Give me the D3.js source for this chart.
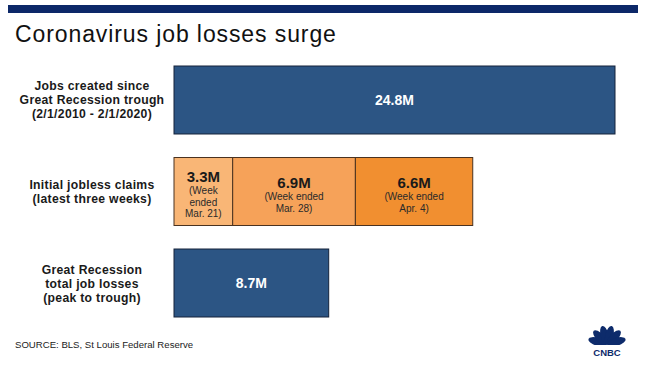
<!DOCTYPE html>
<html>
<head>
<meta charset="utf-8">
<script src="https://cdn.jsdelivr.net/npm/d3@7"></script>
<style>
  body { margin: 0; background: #fff; }
  text { font-family: "Liberation Sans", Arial, sans-serif; }
</style>
</head>
<body>
<div id="chart"></div>
<script>
/* Bar chart: coronavirus job losses vs Great Recession */

const categories = ["jobs", "claims", "recession"];
const categoryLabels = [
    ["Jobs created since", "Great Recession trough", "(2/1/2010 - 2/1/2020)"],
    ["Initial jobless claims", "(latest three weeks)"],
    ["Great Recession", "total job losses", "(peak to trough)"]
];
const jobsCreated = [24.8];
const claimsValues = [3.3, 6.9, 6.6];
const claimsWeeks = [["(Week", "ended", "Mar. 21)"], ["(Week ended", "Mar. 28)"], ["(Week ended", "Apr. 4)"]];
const recessionLosses = [8.7];

const width = 664, height = 377;

const svg = d3.select("#chart")
    .append("svg")
    .attr("width", width)
    .attr("height", height);

// top navy band
svg.append("rect")
    .attr("x", 8).attr("y", 5)
    .attr("width", 630).attr("height", 8)
    .attr("fill", "#0c2868");

svg.append("text")
    .attr("x", 15).attr("y", 42)
    .attr("font-size", 23)
    .attr("letter-spacing", 0.9)
    .attr("font-family", "'Open Sans', sans-serif")
    .attr("fill", "#111")
    .text("Coronavirus job losses surge");

let x = d3.scaleLinear()
    .domain([0, 24.8])
    .range([174, 615]);

let y = d3.scaleBand()
    .domain(categories)
    .range([66, 317])
    .paddingInner(0.257)
    .paddingOuter(0);

// category labels (left)
categories.forEach((c, i) => {
    let lines = categoryLabels[i];
    let cy = y(c) + y.bandwidth() / 2;
    let lh = 14;
    svg.append("g")
        .selectAll("text")
        .data(lines)
        .join("text")
        .attr("text-anchor", "middle")
        .attr("font-size", 12.2)
        .attr("letter-spacing", 0.3)
        .attr("font-weight", 700)
        .attr("fill", "#1a1a1a")
        .attr("x", 92)
        .attr("y", (d, j) => cy + (j - (lines.length - 1) / 2) * lh + 4.5)
        .text(d => d);
});

// single blue bars
const blueBars = [
    { cat: "jobs", value: jobsCreated[0] },
    { cat: "recession", value: recessionLosses[0] }
];

svg.selectAll(".blue")
    .data(blueBars)
    .join("rect")
    .attr("class", "blue")
    .attr("x", x(0))
    .attr("y", d => y(d.cat))
    .attr("width", d => x(d.value) - x(0))
    .attr("height", y.bandwidth())
    .attr("fill", "#2c5584")
    .attr("stroke", "#14223a")
    .attr("stroke-width", 1);

svg.selectAll(".blue-label")
    .data(blueBars)
    .join("text")
    .attr("class", "blue-label")
    .attr("x", d => (x(0) + x(d.value)) / 2)
    .attr("y", d => y(d.cat) + y.bandwidth() / 2 + 5)
    .attr("text-anchor", "middle")
    .attr("font-size", 14)
    .attr("font-weight", 700)
    .attr("fill", "#fff")
    .text(d => d.value + "M");

// stacked orange bar for jobless claims
const orangeColors = ["#f9b676", "#f6a259", "#f18f30"];
let start = 0;
const segments = claimsValues.map((v, i) => {
    let s = { x0: start, x1: start + v, value: v, weeks: claimsWeeks[i], color: orangeColors[i] };
    start += v;
    return s;
});

svg.selectAll(".seg")
    .data(segments)
    .join("rect")
    .attr("class", "seg")
    .attr("x", d => x(d.x0))
    .attr("y", y("claims"))
    .attr("width", d => x(d.x1) - x(d.x0))
    .attr("height", y.bandwidth())
    .attr("fill", d => d.color)
    .attr("stroke", "#4a3220")
    .attr("stroke-width", 1);

const segText = svg.selectAll(".seg-label")
    .data(segments)
    .join("g")
    .attr("class", "seg-label")
    .attr("transform", d => {
        let cy = y("claims") + y.bandwidth() / 2;
        let total = 17 + d.weeks.length * 11.5;
        return `translate(${(x(d.x0) + x(d.x1)) / 2},${cy - total / 2 + 2})`;
    });

segText.append("text")
    .attr("text-anchor", "middle")
    .attr("y", 14)
    .attr("font-size", 15)
    .attr("font-weight", 700)
    .attr("fill", "#1a1a1a")
    .text(d => d.value + "M");

segText.selectAll(".wk")
    .data(d => d.weeks)
    .join("text")
    .attr("class", "wk")
    .attr("text-anchor", "middle")
    .attr("font-size", 10)
    .attr("fill", "#2a2a2a")
    .attr("x", 0)
    .attr("y", (d, j) => 26.5 + j * 11.5)
    .text(d => d);

// source
svg.append("text")
    .attr("x", 15).attr("y", 348)
    .attr("font-size", 9.6)
    .attr("fill", "#222")
    .text("SOURCE: BLS, St Louis Federal Reserve");

// CNBC peacock logo
const logo = svg.append("g").attr("transform", "translate(607,345)");
const feathers = [-72, -43, -14, 14, 43, 72];
logo.selectAll("ellipse")
    .data(feathers)
    .join("ellipse")
    .attr("cx", 0).attr("cy", -10)
    .attr("rx", 4).attr("ry", 9.5)
    .attr("fill", "#0d2b6b")
    .attr("transform", d => `rotate(${d},0,0)`);
logo.append("rect")
    .attr("x", -20).attr("y", 0).attr("width", 40).attr("height", 4)
    .attr("fill", "#fff");
logo.append("text")
    .attr("x", 0).attr("y", 11)
    .attr("text-anchor", "middle")
    .attr("font-size", 9.5)
    .attr("font-weight", 900)
    .attr("fill", "#0d2b6b")
    .text("CNBC");
</script>
</body>
</html>
